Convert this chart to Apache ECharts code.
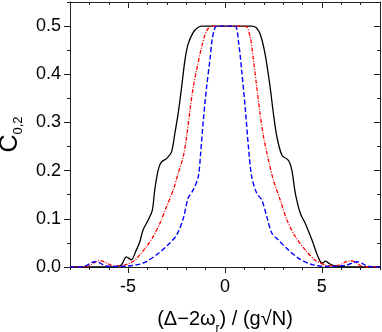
<!DOCTYPE html>
<html lang="en">
<head>
    <meta charset="UTF-8">
    <title>C02 spectrum</title>
    <script type="text/javascript" src="https://cdn.jsdelivr.net/npm/echarts@6.0.0/dist/echarts.min.js"></script>
    <style>
        html, body { margin: 0; padding: 0; background: #fff; }
    </style>
</head>
<body>
    <div id="chart" style="width:382px;height:332px;"></div>
<script>
// data (x = detuning, y = C_0,2)
var blackX = [-8, -6, -5.6, -5.35, -5.09, -4.84, -4.58, -4.4, -4.23, -3.97,
              -3.75, -3.63, -3.45, -3.28, -3.02, -2.76, -2.59, -2.42, -2.24, -2.07,
              -1.9, -1.64, -1.4, -1.21, -0.6, 0, 0.6, 1.38, 1.6, 1.81,
              2.07, 2.33, 2.5, 2.68, 2.94, 3.28, 3.45, 3.63, 3.89, 4.15,
              4.49, 4.7, 4.92, 5.05, 5.18, 5.35, 5.53, 5.9, 6.3, 8];
var blackY = [0, 0, 0.001, 0.004, 0.021, 0.015, 0.035, 0.052, 0.077, 0.097,
              0.118, 0.159, 0.201, 0.218, 0.225, 0.239, 0.277, 0.318, 0.373, 0.429,
              0.463, 0.487, 0.497, 0.5, 0.5, 0.5, 0.5, 0.5, 0.497, 0.484,
              0.442, 0.373, 0.318, 0.27, 0.232, 0.221, 0.201, 0.153, 0.111, 0.09,
              0.056, 0.032, 0.011, 0.008, 0.012, 0.008, 0.004, 0.001, 0, 0];

var redX = [-8, -7.2, -6.95, -6.7, -6.48, -6.25, -6.0, -5.7, -5.3, -4.92,
            -4.65, -4.4, -4.06, -3.71, -3.37, -3.02, -2.68, -2.42, -2.16, -1.98,
            -1.81, -1.64, -1.47, -1.21, -0.95, -0.69, 0, 1.04, 1.3, 1.47,
            1.64, 1.81, 1.99, 2.25, 2.5, 2.85, 3.2, 3.63, 4.15, 4.66,
            5.18, 5.6, 5.95, 6.2, 6.48, 6.72, 6.95, 7.2, 8];
var redY = [0, 0, 0.004, 0.01, 0.013, 0.011, 0.006, 0.002, 0.003, 0.008,
            0.014, 0.025, 0.042, 0.063, 0.09, 0.125, 0.159, 0.194, 0.228, 0.27,
            0.325, 0.373, 0.408, 0.456, 0.49, 0.5, 0.5, 0.5, 0.477, 0.429,
            0.373, 0.318, 0.27, 0.221, 0.18, 0.139, 0.097, 0.063, 0.035, 0.014,
            0.004, 0.002, 0.005, 0.01, 0.013, 0.01, 0.004, 0, 0];

var blueX = [-8, -7.4, -7.1, -6.9, -6.74, -6.5, -6.2, -5.8, -5.0, -4.4,
             -4.06, -3.45, -2.94, -2.5, -2.16, -1.9, -1.64, -1.38, -1.26, -1.12,
             -0.95, -0.78, -0.64, -0.43, 0, 0.52, 0.69, 0.86, 1.04, 1.21,
             1.38, 1.64, 1.9, 2.16, 2.42, 2.76, 3.28, 3.8, 4.49, 5.2,
             5.9, 6.3, 6.6, 6.82, 7.05, 7.3, 7.6, 8];
var blueY = [0, 0, 0.004, 0.009, 0.011, 0.009, 0.003, 0.001, 0.002, 0.006,
             0.011, 0.028, 0.046, 0.066, 0.1, 0.143, 0.16, 0.187, 0.235, 0.304,
             0.373, 0.429, 0.477, 0.5, 0.5, 0.5, 0.47, 0.408, 0.332, 0.249,
             0.187, 0.153, 0.139, 0.104, 0.07, 0.056, 0.035, 0.018, 0.005, 0.001,
             0.002, 0.004, 0.009, 0.011, 0.008, 0.003, 0, 0];

// tick labels
var xTicks = [-5, 0, 5];
var yTicks = [0, 0.1, 0.2, 0.3, 0.4, 0.5];

function pairs(xs, ys) {
    var out = [];
    for (var i = 0; i < xs.length; i++) {
        out.push([xs[i], ys[i]]);
    }
    return out;
}

var myChart = echarts.init(document.getElementById("chart"), null, { renderer: 'canvas' });

var fontName = 'Liberation Sans';
var lineCol = '#222';

// minor ticks axis (no labels), also draws the frame line
function minorAxis(pos, min, max, step, inside) {
    return {
        type: 'value', position: pos, min: min, max: max, interval: step,
        axisLine: { show: true, onZero: false, lineStyle: { color: lineCol, width: 1 } },
        axisTick: { show: true, inside: inside, length: 3, lineStyle: { color: lineCol } },
        axisLabel: { show: false },
        splitLine: { show: false }
    };
}
// major ticks axis
function majorAxis(pos, min, max, ticks, inside, withLabels) {
    return {
        type: 'value', position: pos, min: min, max: max,
        axisLine: { show: false, onZero: false },
        axisTick: { show: true, inside: inside, length: 6, customValues: ticks, lineStyle: { color: lineCol } },
        axisLabel: { show: withLabels, customValues: ticks },
        splitLine: { show: false }
    };
}

var xBottom = majorAxis('bottom', -8, 8, xTicks, false, true);
xBottom.axisLabel.fontFamily = fontName;
xBottom.axisLabel.fontSize = 18;
xBottom.axisLabel.color = '#000';
xBottom.axisLabel.margin = 11;
xBottom.name = '{t|(\u0394\u22122\u03c9}{s|r}{t|) / (g\u221aN)}';
xBottom.nameLocation = 'middle';
xBottom.nameGap = 42;
xBottom.nameTextStyle = {
    rich: {
        t: { fontFamily: fontName, fontSize: 20, color: '#000', lineHeight: 22, verticalAlign: 'top' },
        s: { fontFamily: fontName, fontSize: 12, color: '#000', lineHeight: 12, padding: [14, 0, 0, 0], verticalAlign: 'top' }
    }
};

var yLeft = majorAxis('left', 0, 0.55, yTicks, false, true);
yLeft.axisLabel.fontFamily = fontName;
yLeft.axisLabel.fontSize = 18;
yLeft.axisLabel.color = '#000';
yLeft.axisLabel.margin = 9;
yLeft.axisLabel.formatter = function (v) { return v.toFixed(1); };
yLeft.name = '{c|C}{s|0,2}';
yLeft.nameLocation = 'middle';
yLeft.nameRotate = 90;
yLeft.nameGap = 44;
yLeft.nameTextStyle = {
    rich: {
        c: { fontFamily: fontName, fontSize: 25, color: '#000', lineHeight: 25, verticalAlign: 'top' },
        s: { fontFamily: fontName, fontSize: 13, color: '#000', lineHeight: 13, padding: [14, 0, 0, 0], verticalAlign: 'top' }
    }
};

var option = {
    backgroundColor: '#ffffff',
    animation: false,
    grid: { left: 70, right: 2, top: 2, bottom: 65, containLabel: false, outerBoundsMode: 'none' },
    xAxis: [
        minorAxis('bottom', -8, 8, 1, false),
        xBottom,
        minorAxis('top', -8, 8, 1, true),
        majorAxis('top', -8, 8, xTicks, true, false)
    ],
    yAxis: [
        minorAxis('left', 0, 0.55, 0.05, false),
        yLeft,
        minorAxis('right', 0, 0.55, 0.05, true),
        majorAxis('right', 0, 0.55, yTicks, true, false)
    ],
    series: [{
        name: 'black',
        type: 'line',
        xAxisIndex: 0, yAxisIndex: 0,
        symbol: 'none',
        smooth: 0.3,
        lineStyle: { color: '#000000', width: 1.3, type: 'solid' },
        data: pairs(blackX, blackY)
    }, {
        name: 'red',
        type: 'line',
        xAxisIndex: 0, yAxisIndex: 0,
        symbol: 'none',
        smooth: 0.3,
        lineStyle: { color: '#ff0000', width: 1.3, type: [4, 1.5, 1, 1.5] },
        data: pairs(redX, redY)
    }, {
        name: 'blue',
        type: 'line',
        xAxisIndex: 0, yAxisIndex: 0,
        symbol: 'none',
        smooth: 0.3,
        lineStyle: { color: '#0000ff', width: 1.4, type: [5, 2.5] },
        data: pairs(blueX, blueY)
    }]
};

myChart.setOption(option);
</script>
</body>
</html>
